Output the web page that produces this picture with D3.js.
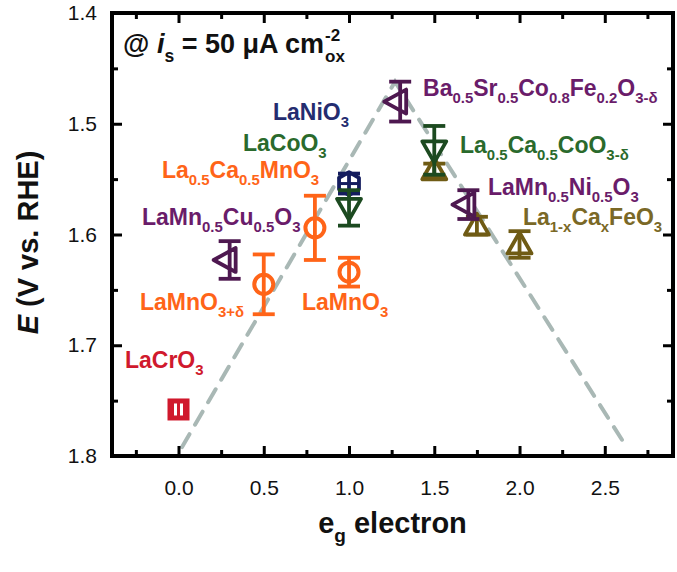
<!DOCTYPE html>
<html>
<head>
<meta charset="utf-8">
<script src="https://cdn.jsdelivr.net/npm/d3@7"></script>
<style>
  html, body { margin: 0; padding: 0; background: #fff; }
  svg { display: block; font-family: "Liberation Sans", Arial, sans-serif; }
</style>
</head>
<body>
<svg id="chart" width="677" height="572"></svg>
<script>
// ---------------- data ----------------
const compounds = ["La1-xCaxFeO3 (a)", "La1-xCaxFeO3 (b)", "La1-xCaxFeO3 (c)",
  "LaCrO3", "LaMnO3+d", "LaMn0.5Cu0.5O3", "La0.5Ca0.5MnO3", "LaMnO3",
  "LaNiO3", "LaCoO3", "BSCF", "La0.5Ca0.5CoO3-d", "LaMn0.5Ni0.5O3"];
const egElectrons = [1.5, 1.75, 2.0, 0.0, 0.5, 0.3, 0.8, 1.0, 1.0, 1.0, 1.3, 1.5, 1.7];
const potentials  = [1.542, 1.592, 1.609, 1.758, 1.645, 1.623, 1.594, 1.634, 1.554, 1.576, 1.480, 1.524, 1.573];
const errors      = [0.006, 0.008, 0.012, 0.006, 0.027, 0.017, 0.029, 0.013, 0.009, 0.016, 0.018, 0.022, 0.013];
const groups      = ["tan", "tan", "tan", "red", "orange", "purple", "orange", "orange",
                     "navy", "green", "purple", "green", "purple"];
const symbols     = ["up", "up", "up", "square", "circle", "left", "circle", "circle",
                     "hexagon", "down", "left", "down", "left"];

// volcano guide line (eg, E)
const trendEg = [0.02, 1.27, 2.62];
const trendE  = [1.792, 1.462, 1.790];

const xTicks = [0, 0.5, 1.0, 1.5, 2.0, 2.5];
const xMinor = [-0.25, 0.25, 0.75, 1.25, 1.75, 2.25, 2.75];
const yTicks = [1.4, 1.5, 1.6, 1.7, 1.8];
const yMinor = [1.45, 1.55, 1.65, 1.75];

// label texts: [text, kind] kind: n normal, s sub, p sup, i italic
const labelTexts = [
  [["LaNiO"], ["3", "s"]],
  [["LaCoO"], ["3", "s"]],
  [["La"], ["0.5", "s"], ["Ca"], ["0.5", "s"], ["MnO"], ["3", "s"]],
  [["LaMn"], ["0.5", "s"], ["Cu"], ["0.5", "s"], ["O"], ["3", "s"]],
  [["LaMnO"], ["3+δ", "s"]],
  [["LaMnO"], ["3", "s"]],
  [["LaCrO"], ["3", "s"]],
  [["Ba"], ["0.5", "s"], ["Sr"], ["0.5", "s"], ["Co"], ["0.8", "s"], ["Fe"], ["0.2", "s"], ["O"], ["3-δ", "s"]],
  [["La"], ["0.5", "s"], ["Ca"], ["0.5", "s"], ["CoO"], ["3-δ", "s"]],
  [["LaMn"], ["0.5", "s"], ["Ni"], ["0.5", "s"], ["O"], ["3", "s"]],
  [["La"], ["1-x", "s"], ["Ca"], ["x", "s"], ["FeO"], ["3", "s"]]
];
const labelGroups = ["navyT", "greenT", "orange", "purpleT", "orange", "orange", "red",
                     "purpleT", "greenT", "purpleT", "tanT"];

// ---------------- layout / style ----------------
const colors = {
  tan: "#6f5b14", red: "#d0192d", orange: "#ff6418", purple: "#4e1850",
  navy: "#141c5e", green: "#1c4a20",
  navyT: "#242c70", greenT: "#2a6a2c", purpleT: "#6a1c6a", tanT: "#7a6826"
};
// label anchors in data units (left x, baseline E)
const labelAnchor = [
  [0.554, 1.4966], [0.378, 1.5246], [-0.097, 1.549], [-0.214, 1.5914],
  [-0.226, 1.668], [0.724, 1.668], [-0.314, 1.7205], [1.434, 1.475],
  [1.651, 1.5264], [1.815, 1.5643], [2.02, 1.5914]
];

const svg = d3.select("#chart");
const x = d3.scaleLinear().domain([-0.39, 2.9]).range([112, 673]);
const y = d3.scaleLinear().domain([1.4, 1.8]).range([13, 456]);

// trend line
svg.append("path")
  .datum(d3.zip(trendEg, trendE))
  .attr("d", d3.line().x(d => x(d[0])).y(d => y(d[1])))
  .attr("fill", "none").attr("stroke", "#a9b8b5").attr("stroke-width", 4)
  .attr("stroke-dasharray", "15 11").attr("stroke-linecap", "round");

// axes
function styleAxis(g) {
  g.select(".domain").remove();
  g.selectAll(".tick line").attr("stroke", "#000").attr("stroke-width", 3);
  g.selectAll(".tick text").attr("font-size", 21).attr("fill", "#111")
    .attr("font-family", "'Liberation Sans', Arial, sans-serif");
}
const fmt = d3.format(".1f");
svg.append("g").attr("transform", `translate(0,${y(1.8)})`)
  .call(d3.axisBottom(x).tickValues(xTicks).tickSize(-10).tickPadding(24).tickFormat(fmt)).call(styleAxis);
svg.append("g").attr("transform", `translate(0,${y(1.8)})`)
  .call(d3.axisBottom(x).tickValues(xMinor).tickSize(-6).tickFormat("")).call(styleAxis);
svg.append("g").attr("transform", `translate(0,${y(1.4)})`)
  .call(d3.axisTop(x).tickValues(xTicks).tickSize(-10).tickFormat("")).call(styleAxis);
svg.append("g").attr("transform", `translate(0,${y(1.4)})`)
  .call(d3.axisTop(x).tickValues(xMinor).tickSize(-6).tickFormat("")).call(styleAxis);
svg.append("g").attr("transform", `translate(${x(-0.39)},0)`)
  .call(d3.axisLeft(y).tickValues(yTicks).tickSize(-10).tickPadding(15).tickFormat(fmt)).call(styleAxis);
svg.append("g").attr("transform", `translate(${x(-0.39)},0)`)
  .call(d3.axisLeft(y).tickValues(yMinor).tickSize(-6).tickFormat("")).call(styleAxis);
svg.append("g").attr("transform", `translate(${x(2.9)},0)`)
  .call(d3.axisRight(y).tickValues(yTicks).tickSize(-10).tickFormat("")).call(styleAxis);
svg.append("g").attr("transform", `translate(${x(2.9)},0)`)
  .call(d3.axisRight(y).tickValues(yMinor).tickSize(-6).tickFormat("")).call(styleAxis);

svg.append("rect")
  .attr("x", x(-0.39)).attr("y", y(1.4))
  .attr("width", x(2.9) - x(-0.39)).attr("height", y(1.8) - y(1.4))
  .attr("fill", "none").attr("stroke", "#000").attr("stroke-width", 4);

// markers with error bars
const pts = compounds.map((c, i) => ({
  c, eg: egElectrons[i], e: potentials[i], err: errors[i],
  col: colors[groups[i]], sym: symbols[i]
}));
const capW = 11, sw = 3.8;
pts.forEach(p => {
  const g = svg.append("g");
  const cx = x(p.eg), cy = y(p.e);
  const y0 = y(p.e - p.err), y1 = y(p.e + p.err);
  const stroke = p.col;
  if (p.sym === "square") {
    g.append("rect").attr("x", cx - 10.5).attr("y", cy - 10.5).attr("width", 21).attr("height", 21)
      .attr("fill", stroke).attr("stroke", stroke).attr("stroke-width", 1);
    [-3, 3].forEach(dx => g.append("rect").attr("x", cx + dx - 1.5).attr("y", cy - 6)
      .attr("width", 3).attr("height", 12).attr("fill", "#fff"));
    return;
  }
  let d;
  if (p.sym === "circle") {
    g.append("circle").attr("cx", cx).attr("cy", cy).attr("r", 9.5)
      .attr("fill", "#fff").attr("stroke", stroke).attr("stroke-width", 4);
  } else {
    if (p.sym === "up") d = [[cx - 12, cy + 9], [cx + 12, cy + 9], [cx, cy - 12]];
    if (p.sym === "down") d = [[cx - 12, cy - 9], [cx + 12, cy - 9], [cx, cy + 12]];
    if (p.sym === "left") d = [[cx + 6, cy - 12], [cx + 6, cy + 12], [cx - 16, cy]];
    if (p.sym === "hexagon") d = d3.range(6).map(k => {
      const a = Math.PI / 6 + k * Math.PI / 3;
      return [cx + 11.5 * Math.cos(a), cy + 11.5 * Math.sin(a)];
    });
    g.append("path").attr("d", "M" + d.map(q => q.join(",")).join("L") + "Z")
      .attr("fill", "#fff").attr("stroke", stroke).attr("stroke-width", sw).attr("stroke-linejoin", "round");
    if (p.sym === "hexagon")
      g.append("line").attr("x1", cx - 10).attr("x2", cx + 10).attr("y1", cy).attr("y2", cy)
        .attr("stroke", stroke).attr("stroke-width", 3);
  }
  // error bar
  g.append("line").attr("x1", cx).attr("x2", cx).attr("y1", y0).attr("y2", y1)
    .attr("stroke", stroke).attr("stroke-width", sw);
  [y0, y1].forEach(yy => g.append("line").attr("x1", cx - capW).attr("x2", cx + capW)
    .attr("y1", yy).attr("y2", yy).attr("stroke", stroke).attr("stroke-width", sw));
});

// rich text helper
function rich(parent, px, py, segs, size, color, anchor) {
  const t = parent.append("text").attr("x", px).attr("y", py)
    .attr("font-size", size).attr("font-weight", "bold").attr("fill", color)
    .attr("text-anchor", anchor || "start");
  let shift = 0;
  segs.forEach(([str, kind]) => {
    const target = kind === "s" ? size * 0.3 : kind === "p" ? -size * 0.42 : 0;
    const ts = t.append("tspan").attr("dy", target - shift).text(str);
    if (kind === "s" || kind === "p") ts.attr("font-size", size * 0.65);
    if (kind === "i") ts.attr("font-style", "italic");
    shift = target;
  });
  return t;
}

labelTexts.forEach((segs, i) => {
  rich(svg, x(labelAnchor[i][0]), y(labelAnchor[i][1]), segs, 23, colors[labelGroups[i]]);
});

// condition annotation
const annX = x(-0.325), annY = y(1.4365);
const ann = rich(svg, annX, annY,
  [["@ "], ["i", "i"], ["s", "s"], [" = 50 μA cm"]], 27, "#111");
const annEnd = annX + ann.node().getComputedTextLength();
svg.append("text").attr("x", annEnd + 1).attr("y", annY - 12).attr("font-size", 17)
  .attr("font-weight", "bold").attr("fill", "#111").text("-2");
svg.append("text").attr("x", annEnd + 1).attr("y", annY + 9).attr("font-size", 17)
  .attr("font-weight", "bold").attr("fill", "#111").text("ox");

// axis titles
const yt = svg.append("text").attr("transform", `translate(38,${(y(1.4) + y(1.8)) / 2 + 8}) rotate(-90)`)
  .attr("text-anchor", "middle").attr("font-size", 29).attr("font-weight", "bold").attr("fill", "#111");
yt.append("tspan").attr("font-style", "italic").text("E");
yt.append("tspan").text(" (V vs. RHE)");

const xt = svg.append("text").attr("x", (x(-0.39) + x(2.9)) / 2).attr("y", 533)
  .attr("text-anchor", "middle").attr("font-size", 29).attr("font-weight", "bold").attr("fill", "#111");
xt.append("tspan").text("e");
xt.append("tspan").attr("font-size", 19).attr("dy", 9).text("g");
xt.append("tspan").attr("dy", -9).text(" electron");
</script>
</body>
</html>
